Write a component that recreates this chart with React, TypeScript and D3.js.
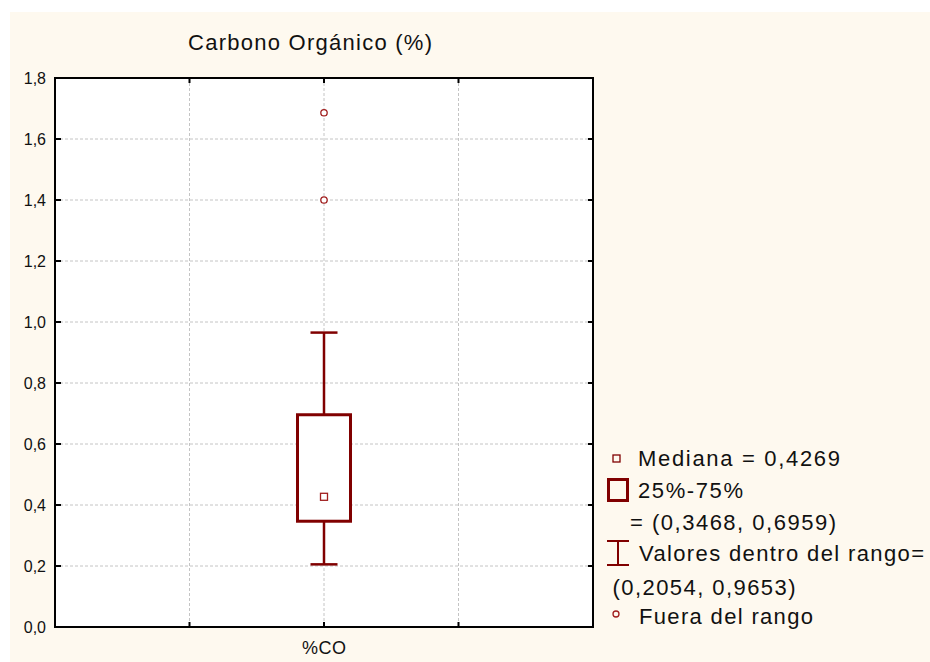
import React from "react";
import * as d3 from "d3";

// ---- data ----
const categories = ["%CO"];
const q1Values = [0.3468];
const q3Values = [0.6959];
const medianValues = [0.4269];
const whiskerLowValues = [0.2054];
const whiskerHighValues = [0.9653];
const outlierValues = [[1.4, 1.686]];
const yTickValues = [0, 0.2, 0.4, 0.6, 0.8, 1.0, 1.2, 1.4, 1.6, 1.8];
const xGridValues = [1, 2, 3];
const categoryPositions = [2];
const title = "Carbono Orgánico (%)";
const legendLabels = [
  "Mediana = 0,4269",
  "25%-75%",
  "= (0,3468, 0,6959)",
  "Valores dentro del rango=",
  "(0,2054, 0,9653)",
  "Fuera del rango",
];

const W = 930;
const H = 662;
const plot = { left: 55, right: 593, top: 78, bottom: 627 };
const BOX = "#800000";
const OUT = "#a01e1e";
const CREAM = "#fef9ef";
const FONT = "'Liberation Sans', Arial, sans-serif";

const fmt = (v: number) => v.toFixed(1).replace(".", ",");

export default function App() {
  const y = d3.scaleLinear().domain([0, 1.8]).range([plot.bottom, plot.top]);
  const x = d3.scaleLinear().domain([0, 4]).range([plot.left, plot.right]);

  const boxW = 53;
  const capW = 27;

  return (
    <svg
      width={W}
      height={H}
      style={{ position: "absolute", left: 0, top: 0 }}
      xmlns="http://www.w3.org/2000/svg"
    >
      <rect x={0} y={0} width={W} height={H} fill="#ffffff" />
      <rect x={10} y={12} width={W - 10} height={H - 12} fill={CREAM} />
      <rect
        x={plot.left}
        y={plot.top}
        width={plot.right - plot.left}
        height={plot.bottom - plot.top}
        fill="#ffffff"
      />

      {/* grid */}
      {yTickValues.slice(1, -1).map((v) => (
        <line
          key={"gy" + v}
          x1={plot.left}
          x2={plot.right}
          y1={y(v)}
          y2={y(v)}
          stroke="#c4c4c4"
          strokeWidth={1}
          strokeDasharray="3,2"
        />
      ))}
      {xGridValues.map((v) => (
        <line
          key={"gx" + v}
          x1={x(v)}
          x2={x(v)}
          y1={plot.top}
          y2={plot.bottom}
          stroke="#c4c4c4"
          strokeWidth={1}
          strokeDasharray="3,2"
        />
      ))}

      {/* title */}
      <text
        x={188}
        y={50}
        fontFamily={FONT}
        fontSize={22}
        fill="#111"
        textLength={244}
        lengthAdjust="spacing"
      >
        {title}
      </text>

      {/* y tick labels */}
      {yTickValues.map((v) => (
        <text
          key={"yl" + v}
          x={46}
          y={y(v) + 5.5}
          textAnchor="end"
          fontFamily={FONT}
          fontSize={16}
          fill="#111"
        >
          {fmt(v)}
        </text>
      ))}

      {/* x label */}
      {categories.map((c, i) => (
        <text
          key={"xl" + c}
          x={x(categoryPositions[i])}
          y={654}
          textAnchor="middle"
          fontFamily={FONT}
          fontSize={18}
          fill="#111"
          textLength={44}
          lengthAdjust="spacing"
        >
          {c}
        </text>
      ))}

      {/* boxes */}
      {categories.map((c, i) => {
        const cx = x(categoryPositions[i]);
        return (
          <g key={"box" + c}>
            <line
              x1={cx}
              x2={cx}
              y1={y(whiskerHighValues[i])}
              y2={y(q3Values[i])}
              stroke={BOX}
              strokeWidth={2.5}
            />
            <line
              x1={cx}
              x2={cx}
              y1={y(q1Values[i])}
              y2={y(whiskerLowValues[i])}
              stroke={BOX}
              strokeWidth={2.5}
            />
            <line
              x1={cx - capW / 2}
              x2={cx + capW / 2}
              y1={y(whiskerHighValues[i])}
              y2={y(whiskerHighValues[i])}
              stroke={BOX}
              strokeWidth={2.5}
            />
            <line
              x1={cx - capW / 2}
              x2={cx + capW / 2}
              y1={y(whiskerLowValues[i])}
              y2={y(whiskerLowValues[i])}
              stroke={BOX}
              strokeWidth={2.5}
            />
            <rect
              x={cx - boxW / 2}
              y={y(q3Values[i])}
              width={boxW}
              height={y(q1Values[i]) - y(q3Values[i])}
              fill="#ffffff"
              stroke={BOX}
              strokeWidth={3}
            />
            <rect
              x={cx - 3.5}
              y={y(medianValues[i]) - 3.5}
              width={7}
              height={7}
              fill="#ffffff"
              stroke={OUT}
              strokeWidth={1.3}
            />
            {outlierValues[i].map((o) => (
              <circle
                key={"o" + o}
                cx={cx}
                cy={y(o)}
                r={3.2}
                fill="#ffffff"
                stroke={OUT}
                strokeWidth={1.3}
              />
            ))}
          </g>
        );
      })}

      {/* frame */}
      <rect
        x={plot.left}
        y={plot.top}
        width={plot.right - plot.left}
        height={plot.bottom - plot.top}
        fill="none"
        stroke="#000"
        strokeWidth={2}
      />
      {yTickValues.slice(1, -1).map((v) => (
        <g key={"yt" + v}>
          <line x1={plot.left} x2={plot.left + 6} y1={y(v)} y2={y(v)} stroke="#000" strokeWidth={2} />
          <line x1={plot.right - 5} x2={plot.right} y1={y(v)} y2={y(v)} stroke="#000" strokeWidth={2} />
        </g>
      ))}
      {xGridValues.map((v) => (
        <g key={"xt" + v}>
          <line x1={x(v)} x2={x(v)} y1={plot.top} y2={plot.top + 5} stroke="#000" strokeWidth={2} />
          <line x1={x(v)} x2={x(v)} y1={plot.bottom - 5} y2={plot.bottom} stroke="#000" strokeWidth={2} />
        </g>
      ))}

      {/* legend */}
      <g fontFamily={FONT} fontSize={22} fill="#111">
        <rect x={613} y={455} width={7} height={7} fill="none" stroke={BOX} strokeWidth={1.3} />
        <text x={638} y={466} textLength={202} lengthAdjust="spacing">{legendLabels[0]}</text>

        <rect x={608.5} y={479.5} width={19} height={21} fill="none" stroke={BOX} strokeWidth={3} />
        <text x={638} y={498} textLength={105} lengthAdjust="spacing">{legendLabels[1]}</text>
        <text x={630} y={530} textLength={206} lengthAdjust="spacing">{legendLabels[2]}</text>

        <line x1={618} x2={618} y1={541} y2={565} stroke={BOX} strokeWidth={2} />
        <line x1={607} x2={629} y1={541} y2={541} stroke={BOX} strokeWidth={2} />
        <line x1={607} x2={629} y1={565} y2={565} stroke={BOX} strokeWidth={2} />
        <text x={639} y={561} textLength={285} lengthAdjust="spacing">{legendLabels[3]}</text>
        <text x={612.5} y={595} textLength={183} lengthAdjust="spacing">{legendLabels[4]}</text>

        <circle cx={616} cy={614} r={3} fill="none" stroke={OUT} strokeWidth={1.3} />
        <text x={639} y={624} textLength={174} lengthAdjust="spacing">{legendLabels[5]}</text>
      </g>
    </svg>
  );
}
